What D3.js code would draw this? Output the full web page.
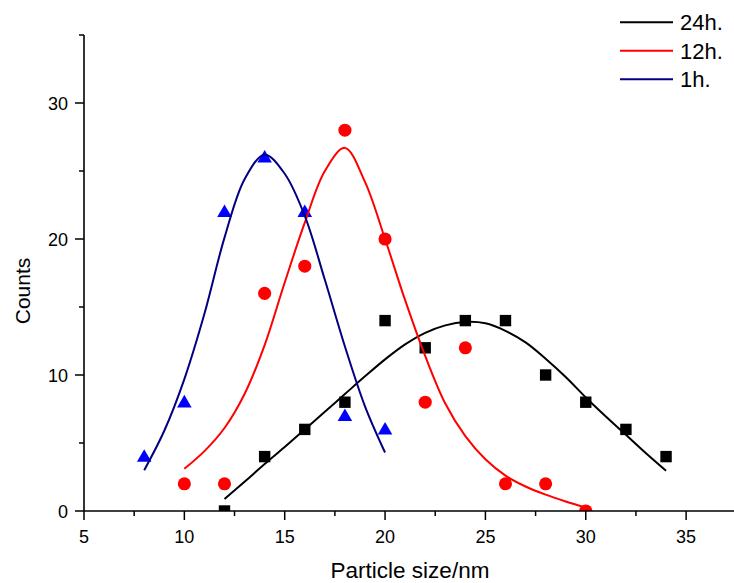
<!DOCTYPE html>
<html>
<head>
<meta charset="utf-8">
<script src="https://cdn.jsdelivr.net/npm/d3@7"></script>
<style>
  html, body { margin: 0; padding: 0; background: #fff; }
  svg { display: block; font-family: "Liberation Sans", Arial, sans-serif; }
</style>
</head>
<body>
<svg id="chart" width="734" height="583"></svg>
<script>
// Measured particle size histograms (counts per size bin)
const sizes1h  = [8, 10, 12, 14, 16, 18, 20];
const counts1h = [4, 8, 22, 26, 22, 7, 6];

const sizes12h  = [10, 12, 14, 16, 18, 20, 22, 24, 26, 28, 30];
const counts12h = [2, 2, 16, 18, 28, 20, 8, 12, 2, 2, 0];

const sizes24h  = [12, 14, 16, 18, 20, 22, 24, 26, 28, 30, 32, 34];
const counts24h = [0, 4, 6, 8, 14, 12, 14, 14, 10, 8, 6, 4];

// Fitted distribution curves, sampled at 1 nm steps
const fitX1h = [8, 9, 10, 11, 12, 13, 14, 15, 16, 17, 18, 19, 20];
const fitY1h = [3.0, 5.9, 9.7, 14.5, 20.1, 24.4, 26.2, 24.8, 21.7, 17.0, 12.1, 7.7, 4.3];

const fitX12h = [10, 11, 12, 13, 14, 15, 16, 17, 18, 19, 20, 21, 22, 23, 24, 25, 26, 27, 28, 29, 30];
const fitY12h = [3.1, 4.4, 6.1, 8.6, 12.2, 16.8, 21.2, 25.0, 26.7, 24.2, 20.0, 15.5, 11.4, 7.9, 5.5, 3.8, 2.6, 1.8, 1.2, 0.7, 0.25];

const fitX24h = [12, 13, 14, 15, 16, 17, 18, 19, 20, 21, 22, 23, 24, 25, 26, 27, 28, 29, 30, 31, 32, 33, 34];
const fitY24h = [0.88, 2.15, 3.45, 4.7, 6.0, 7.3, 8.6, 9.9, 11.15, 12.25, 13.1, 13.65, 13.9, 13.8, 13.25, 12.4, 11.2, 9.85, 8.35, 6.95, 5.6, 4.25, 2.96];

// Axis ticks
const xMajorTicks = [5, 10, 15, 20, 25, 30, 35];
const xMinorTicks = [7.5, 12.5, 17.5, 22.5, 27.5, 32.5];
const yMajorTicks = [0, 10, 20, 30];
const yMinorTicks = [5, 15, 25, 35];

const legendLabels = ["24h.", "12h.", "1h."];

const svg = d3.select("#chart");

const x = d3.scaleLinear().domain([5, 37.5]).range([84, 736.3]);
const y = d3.scaleLinear().domain([0, 35]).range([511, 35]);

// Clip region for marks (plot area)
svg.append("defs").append("clipPath").attr("id", "plotClip")
  .append("rect")
  .attr("x", x(5)).attr("y", y(35))
  .attr("width", x(37.5) - x(5)).attr("height", y(0) - y(35));

const plot = svg.append("g").attr("clip-path", "url(#plotClip)");

const series = [
  { key: "24h", xs: sizes24h, ys: counts24h, fx: fitX24h, fy: fitY24h, line: "#000000", fill: "#000000", symbol: d3.symbolSquare, size: 130 },
  { key: "12h", xs: sizes12h, ys: counts12h, fx: fitX12h, fy: fitY12h, line: "#ff0000", fill: "#ff0000", symbol: d3.symbolCircle, size: 135 },
  { key: "1h",  xs: sizes1h,  ys: counts1h,  fx: fitX1h,  fy: fitY1h,  line: "#000080", fill: "#0000ff", symbol: d3.symbolTriangle, size: 92 }
];

const lineGen = d3.line()
  .x(d => x(d[0]))
  .y(d => y(d[1]))
  .curve(d3.curveCatmullRom.alpha(0.5));

// Markers first, then fitted curves on top
series.forEach(s => {
  plot.append("g").selectAll("path")
    .data(s.xs.map((v, i) => [v, s.ys[i]]))
    .join("path")
    .attr("d", d3.symbol().type(s.symbol).size(s.size))
    .attr("transform", d => {
      const dy = s.symbol === d3.symbolTriangle ? 1 : 0;
      return `translate(${x(d[0])},${y(d[1]) + dy})`;
    })
    .attr("fill", s.fill);
});

series.forEach(s => {
  plot.append("path")
    .datum(s.fx.map((v, i) => [v, s.fy[i]]))
    .attr("d", lineGen)
    .attr("fill", "none")
    .attr("stroke", s.line)
    .attr("stroke-width", 2);
});

// Axes
const axisColor = "#000";
const xAxis = svg.append("g").attr("transform", `translate(0,${y(0)})`);
xAxis.append("line").attr("x1", x(5)).attr("x2", 734).attr("y1", 0).attr("y2", 0)
  .attr("stroke", axisColor).attr("stroke-width", 1.6);
xAxis.selectAll(".major").data(xMajorTicks).join("line")
  .attr("x1", d => x(d)).attr("x2", d => x(d)).attr("y1", 0).attr("y2", 9)
  .attr("stroke", axisColor).attr("stroke-width", 1.5);
xAxis.selectAll(".minor").data(xMinorTicks).join("line")
  .attr("x1", d => x(d)).attr("x2", d => x(d)).attr("y1", 0).attr("y2", 5)
  .attr("stroke", axisColor).attr("stroke-width", 1.5);
xAxis.selectAll("text").data(xMajorTicks).join("text")
  .attr("x", d => x(d)).attr("y", 32)
  .attr("text-anchor", "middle")
  .attr("font-size", 18)
  .text(d => d);

const yAxis = svg.append("g").attr("transform", `translate(${x(5)},0)`);
yAxis.append("line").attr("x1", 0).attr("x2", 0).attr("y1", y(35)).attr("y2", y(0))
  .attr("stroke", axisColor).attr("stroke-width", 1.6);
yAxis.selectAll(".major").data(yMajorTicks).join("line")
  .attr("x1", 0).attr("x2", -9).attr("y1", d => y(d)).attr("y2", d => y(d))
  .attr("stroke", axisColor).attr("stroke-width", 1.5);
yAxis.selectAll(".minor").data(yMinorTicks).join("line")
  .attr("x1", 0).attr("x2", -5).attr("y1", d => y(d)).attr("y2", d => y(d))
  .attr("stroke", axisColor).attr("stroke-width", 1.5);
yAxis.selectAll("text").data(yMajorTicks).join("text")
  .attr("x", -16).attr("y", d => y(d) + 6.5)
  .attr("text-anchor", "end")
  .attr("font-size", 18)
  .text(d => d);

// Axis titles
svg.append("text")
  .attr("x", 410).attr("y", 578)
  .attr("text-anchor", "middle")
  .attr("font-size", 22.5)
  .text("Particle size/nm");

svg.append("text")
  .attr("transform", "translate(30,291) rotate(-90)")
  .attr("text-anchor", "middle")
  .attr("font-size", 21)
  .text("Counts");

// Legend
const legendColors = ["#000000", "#ff0000", "#000080"];
const legendY = [22.3, 50.7, 79.3];
const legend = svg.append("g");
legendLabels.forEach((label, i) => {
  legend.append("line")
    .attr("x1", 620).attr("x2", 673)
    .attr("y1", legendY[i]).attr("y2", legendY[i])
    .attr("stroke", legendColors[i]).attr("stroke-width", 2);
  legend.append("text")
    .attr("x", 680).attr("y", legendY[i] + 8)
    .attr("font-size", 22)
    .text(label);
});
</script>
</body>
</html>
